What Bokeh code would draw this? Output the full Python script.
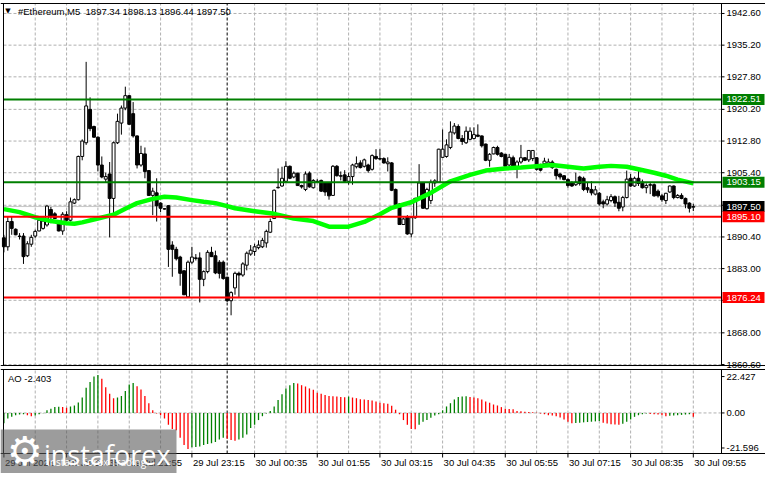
from bokeh.plotting import figure
from bokeh.models import Range1d, ColumnDataSource
from bokeh.embed import file_html
from bokeh.resources import INLINE
from bokeh.core.properties import value

# ---------------- data ----------------
symbol = "#Ethereum,M5"
opens = [1890.2, 1888.1, 1894.0, 1892.2, 1890.6, 1890.6, 1886.0, 1888.7, 1890.6, 1891.8,
         1892.4, 1893.2, 1896.8, 1895.8, 1894.0, 1891.8, 1895.6, 1894.3, 1898.3, 1899.1,
         1909.2, 1912.4, 1920.2, 1916.2, 1913.7, 1907.2, 1903.9, 1905.1, 1899.4, 1912.4,
         1917.0, 1920.5, 1923.4, 1919.2, 1914.0, 1907.2, 1909.8, 1905.9, 1900.1, 1900.7,
         1898.3, 1897.0, 1897.7, 1888.5, 1887.5, 1885.7, 1882.5, 1876.4, 1884.5, 1885.5,
         1885.5, 1880.5, 1882.3, 1886.8, 1886.0, 1884.5, 1884.5, 1881.0, 1875.5, 1878.5,
         1881.9, 1881.5, 1883.8, 1886.4, 1887.0, 1887.9, 1888.1, 1889.0, 1891.5, 1894.7,
         1901.9, 1902.3, 1903.4, 1906.9, 1904.4, 1905.3, 1902.4, 1901.5, 1905.3, 1901.9,
         1903.4, 1903.6, 1903.0, 1903.0, 1900.1, 1906.9, 1904.7, 1904.9, 1903.4, 1904.5,
         1906.8, 1907.7, 1906.9, 1907.2, 1906.2, 1909.2, 1908.7, 1908.7, 1907.5, 1907.7,
         1901.5, 1898.1, 1893.3, 1895.1, 1891.1, 1894.9, 1899.6, 1903.0, 1897.0, 1898.9,
         1903.0, 1903.2, 1909.0, 1909.2, 1911.3, 1914.7, 1916.2, 1913.4, 1912.4, 1913.2,
         1913.4, 1914.2, 1914.0, 1912.1, 1908.3, 1909.8, 1911.3, 1910.0, 1909.7, 1907.2,
         1908.9, 1906.9, 1907.9, 1908.9, 1908.4, 1908.7, 1908.9, 1907.2, 1907.5, 1907.4,
         1907.9, 1906.2, 1905.1, 1904.7, 1903.8, 1903.0, 1902.6, 1904.4, 1904.1, 1901.9,
         1901.5, 1900.4, 1900.6, 1898.6, 1898.1, 1898.9, 1899.8, 1898.5, 1897.4, 1899.6,
         1904.1, 1902.3, 1904.1, 1903.2, 1901.9, 1902.6, 1902.6, 1901.1, 1900.0, 1898.9,
         1900.9, 1902.3, 1899.6, 1900.1, 1899.4, 1898.3, 1897.34]
highs = [1890.9, 1895.1, 1895.1, 1892.4, 1891.3, 1891.3, 1889.4, 1890.9, 1892.1, 1894.7,
         1895.1, 1897.9, 1897.4, 1896.2, 1894.3, 1896.2, 1896.4, 1899.6, 1899.4, 1909.4,
         1913.2, 1931.3, 1923.0, 1916.4, 1913.9, 1909.2, 1905.4, 1907.9, 1912.7, 1919.2,
         1921.1, 1925.5, 1923.5, 1921.9, 1914.1, 1911.7, 1911.3, 1906.0, 1901.9, 1904.1,
         1898.5, 1897.1, 1897.8, 1889.4, 1888.1, 1886.0, 1882.6, 1884.9, 1888.1, 1886.4,
         1886.8, 1882.6, 1887.3, 1888.1, 1887.2, 1885.0, 1884.9, 1881.1, 1877.7, 1882.3,
         1882.3, 1884.5, 1887.0, 1888.5, 1888.8, 1889.6, 1890.2, 1892.1, 1894.7, 1901.5,
         1906.4, 1906.8, 1908.1, 1907.1, 1905.7, 1905.4, 1902.6, 1905.7, 1905.7, 1903.9,
         1903.9, 1903.8, 1903.2, 1903.2, 1907.2, 1907.2, 1905.7, 1906.0, 1905.4, 1907.5,
         1909.2, 1908.3, 1908.7, 1907.5, 1909.7, 1910.9, 1910.9, 1909.0, 1909.0, 1907.9,
         1901.7, 1898.3, 1894.9, 1895.5, 1895.1, 1899.6, 1907.4, 1903.2, 1901.9, 1903.8,
         1903.9, 1911.0, 1915.5, 1913.2, 1917.4, 1917.0, 1916.7, 1914.2, 1916.2, 1916.0,
         1916.0, 1916.7, 1914.1, 1912.2, 1910.0, 1911.5, 1911.7, 1910.2, 1909.8, 1909.8,
         1909.4, 1908.3, 1911.9, 1909.0, 1910.7, 1910.7, 1909.0, 1907.5, 1908.9, 1908.7,
         1908.3, 1906.4, 1905.3, 1904.8, 1904.1, 1903.4, 1905.4, 1904.7, 1904.5, 1903.0,
         1903.4, 1902.3, 1900.9, 1899.1, 1900.0, 1900.4, 1900.1, 1900.0, 1900.0, 1905.9,
         1905.1, 1904.5, 1905.9, 1903.8, 1902.9, 1903.0, 1902.9, 1901.5, 1900.4, 1900.7,
         1902.4, 1902.4, 1900.4, 1900.6, 1899.6, 1898.5, 1898.13]
lows = [1886.8, 1887.2, 1890.9, 1890.8, 1889.8, 1884.1, 1885.7, 1888.1, 1890.2, 1891.7,
        1892.1, 1892.8, 1893.6, 1894.6, 1891.7, 1890.9, 1894.0, 1894.0, 1898.1, 1898.9,
        1908.3, 1911.9, 1915.1, 1913.6, 1905.7, 1904.1, 1903.0, 1890.3, 1895.8, 1912.1,
        1914.3, 1920.0, 1916.6, 1913.6, 1906.4, 1906.8, 1904.1, 1900.0, 1895.5, 1894.0,
        1896.2, 1896.8, 1883.4, 1881.1, 1884.9, 1879.0, 1876.8, 1876.2, 1884.1, 1884.9,
        1875.1, 1878.9, 1881.9, 1885.7, 1881.7, 1880.7, 1880.4, 1875.2, 1872.1, 1876.9,
        1876.2, 1881.1, 1882.6, 1886.0, 1886.0, 1887.5, 1887.8, 1887.9, 1891.3, 1894.6,
        1901.7, 1902.1, 1903.0, 1903.9, 1904.1, 1902.3, 1901.7, 1901.1, 1901.9, 1901.7,
        1903.0, 1900.9, 1900.0, 1899.1, 1900.0, 1904.5, 1903.6, 1903.0, 1902.6, 1902.6,
        1906.4, 1906.4, 1906.6, 1905.4, 1905.9, 1908.4, 1908.3, 1907.5, 1905.7, 1901.1,
        1897.7, 1893.2, 1893.2, 1890.9, 1890.3, 1894.6, 1899.4, 1897.0, 1896.8, 1898.1,
        1902.1, 1903.0, 1908.9, 1908.9, 1910.9, 1914.3, 1913.2, 1911.9, 1912.1, 1913.0,
        1913.2, 1913.7, 1911.3, 1908.1, 1906.8, 1909.7, 1909.4, 1909.0, 1906.8, 1906.9,
        1906.4, 1904.1, 1907.5, 1908.1, 1907.9, 1908.1, 1905.9, 1905.7, 1907.2, 1907.2,
        1906.3, 1903.8, 1903.8, 1903.6, 1901.9, 1902.1, 1902.3, 1902.4, 1901.1, 1900.7,
        1900.1, 1900.1, 1897.7, 1897.1, 1897.7, 1898.5, 1897.4, 1896.4, 1896.4, 1899.4,
        1902.1, 1902.1, 1902.3, 1901.7, 1900.6, 1900.4, 1899.8, 1899.6, 1898.6, 1898.1,
        1900.7, 1899.2, 1899.4, 1899.2, 1897.1, 1896.1, 1896.44]
closes = [1888.1, 1894.0, 1892.4, 1890.9, 1890.5, 1885.8, 1888.8, 1890.3, 1891.7, 1894.3,
          1894.1, 1897.6, 1895.1, 1894.7, 1891.8, 1895.7, 1894.3, 1898.6, 1899.1, 1909.2,
          1912.8, 1921.0, 1915.7, 1913.7, 1907.2, 1904.4, 1904.5, 1899.4, 1912.4, 1917.4,
          1920.5, 1923.4, 1916.7, 1914.0, 1907.2, 1909.9, 1905.7, 1900.1, 1901.1, 1897.7,
          1897.1, 1896.9, 1887.5, 1887.5, 1885.3, 1881.9, 1876.9, 1884.5, 1885.7, 1885.4,
          1880.5, 1882.3, 1886.8, 1885.8, 1882.0, 1881.9, 1880.7, 1875.5, 1877.4, 1881.9,
          1881.5, 1884.1, 1886.6, 1887.3, 1888.1, 1888.5, 1889.6, 1891.7, 1894.0, 1901.3,
          1902.0, 1904.1, 1906.9, 1904.1, 1905.3, 1902.4, 1902.1, 1905.1, 1902.1, 1903.6,
          1903.3, 1901.1, 1900.9, 1900.0, 1906.9, 1904.7, 1904.6, 1903.4, 1904.5, 1907.2,
          1907.5, 1906.6, 1908.4, 1905.9, 1909.4, 1908.7, 1908.6, 1907.7, 1907.9, 1901.3,
          1897.9, 1893.3, 1894.6, 1891.1, 1894.9, 1899.4, 1903.0, 1897.1, 1901.5, 1903.2,
          1903.5, 1910.9, 1910.9, 1911.9, 1914.9, 1916.3, 1913.4, 1912.7, 1915.1, 1915.1,
          1914.3, 1913.9, 1911.7, 1908.3, 1909.7, 1911.3, 1909.7, 1909.2, 1906.9, 1909.0,
          1906.8, 1907.9, 1908.9, 1908.3, 1910.6, 1910.6, 1906.2, 1906.0, 1908.1, 1907.9,
          1906.6, 1904.7, 1904.4, 1903.8, 1902.4, 1902.3, 1903.2, 1902.9, 1901.5, 1901.4,
          1900.7, 1901.4, 1898.1, 1898.1, 1899.1, 1899.8, 1898.3, 1897.1, 1899.6, 1903.9,
          1902.3, 1904.1, 1902.9, 1901.9, 1902.4, 1902.5, 1900.0, 1900.0, 1899.1, 1900.6,
          1902.3, 1899.6, 1900.1, 1899.4, 1898.1, 1897.1, 1897.50]

# moving average read at sampled bars
ma_idx = [0, 4, 8, 12, 16, 18, 20, 24, 28, 31, 34, 38, 41, 44, 48, 51, 54, 57, 59,
          64, 69, 74, 79, 83, 88, 92, 96, 99, 104, 109, 114, 119, 123, 128, 132,
          136, 140, 144, 148, 152, 155, 159, 162, 166, 169, 172, 176]
ma_vals = [1896.9, 1896.2, 1895.0, 1894.1, 1893.6, 1893.5, 1893.8, 1894.7, 1895.6, 1897.0,
           1898.3, 1899.3, 1899.8, 1899.6, 1899.0, 1898.6, 1898.3, 1897.6, 1897.1,
           1896.4, 1895.8, 1894.7, 1894.1, 1892.8, 1892.8, 1893.9, 1895.7, 1897.2, 1898.5,
           1900.7, 1903.4, 1904.9, 1905.9, 1906.4, 1906.6, 1906.9, 1907.2, 1906.8, 1906.4,
           1906.8, 1907.0, 1906.8, 1906.2, 1905.4, 1904.7, 1903.8, 1902.9]

# Awesome Oscillator values per bar
ao = [-6.3, -3.4, -2.4, -1.4, -1.0, -0.8, -1.4, -2.0, -1.6, -0.8,
      -0.2, 1.6, 2.6, 3.6, 3.8, 3.6, 3.2, 4.0, 4.6, 6.5,
      9.5, 15.5, 19.0, 22.4, 23.4, 21.0, 15.9, 11.9, 9.1, 9.5,
      10.5, 13.5, 17.5, 18.5, 16.5, 14.5, 10.5, 6.0, 1.6, -0.4,
      -1.4, -3.4, -7.3, -9.9, -10.7, -15.3, -19.8, -22.2, -21.2, -21.0,
      -20.6, -19.8, -19.2, -18.7, -17.9, -16.3, -15.3, -15.9, -16.7, -17.1,
      -16.3, -15.3, -13.3, -9.3, -7.3, -4.4, -2.0, -0.4, 1.2, 4.0,
      7.9, 11.5, 15.1, 17.1, 18.5, 18.1, 17.1, 16.3, 15.1, 14.3,
      12.5, 11.9, 11.1, 10.5, 10.3, 10.1, 9.9, 9.7, 10.1, 9.5,
      9.1, 8.5, 8.3, 7.9, 7.7, 7.1, 6.3, 6.0, 5.6, 4.4,
      2.0, -0.8, -4.4, -7.3, -9.9, -10.1, -7.3, -5.4, -4.4, -3.0,
      -1.6, -0.8, 1.6, 4.0, 6.0, 8.3, 9.9, 10.1, 10.3, 9.9,
      9.5, 9.1, 8.3, 7.1, 6.3, 5.2, 4.6, 3.6, 2.6, 2.4,
      2.2, 1.2, 1.0, 0.8, 0.6, 0.4, 0.2, -0.4, -0.8, -1.4,
      -1.6, -2.0, -2.8, -4.0, -5.4, -6.3, -6.2, -6.0, -5.8, -5.6,
      -5.4, -5.2, -5.0, -6.0, -6.5, -6.9, -7.1, -7.3, -6.7, -5.4,
      -4.0, -2.4, -1.4, -0.8, -0.4, -0.6, -0.8, -1.0, -1.4, -2.0,
      -1.8, -1.6, -1.4, -1.2, -1.0, -0.8, -2.403]

resistance_levels = [1922.51, 1903.15]
support_levels = [1895.10, 1876.24]
bid_price = 1897.50

price_ticks = [1942.60, 1935.20, 1927.80, 1920.20, 1912.80, 1905.40,
               1897.80, 1890.40, 1883.00, 1875.60, 1868.00, 1860.60]
ao_ticks = [22.427, 0.0, -21.596]
ao_tick_labels = ["22.427", "0.00", "-21.596"]

time_ticks = [0, 16, 32, 48, 64, 80, 96, 112, 128, 144, 160, 176]
time_labels = ["29 Jul 2026", "29 Jul 20:35", "29 Jul 21:55", "29 Jul 23:15",
               "30 Jul 00:35", "30 Jul 01:55", "30 Jul 03:15", "30 Jul 04:35",
               "30 Jul 05:55", "30 Jul 07:15", "30 Jul 08:35", "30 Jul 09:55"]
grid_bars = [8, 16, 24, 32, 40, 48, 64, 72, 80, 88, 96, 104, 112, 120, 128,
             136, 144, 152, 160, 168, 176]
day_separator = 57

# ---------------- layout (canvas pixels) ----------------
W, H = 765, 473
FRAME_L, FRAME_R = 3, 721
MAIN_T, MAIN_B = 3, 365
AO_T, AO_B = 369, 453
X0, X1 = -0.1, 183.2            # bar window shown inside the frames
P_LO, P_HI = 1860.37, 1944.93   # price window of the main panel
A_LO, A_HI = -24.99, 26.77      # AO window

SX = (FRAME_R - FRAME_L) / (X1 - X0)
XS, XE = X0 - FRAME_L / SX, X1 + (W - FRAME_R) / SX
SP = (MAIN_B - MAIN_T) / (P_HI - P_LO)
PT, PB = P_HI + MAIN_T / SP, P_LO - (H - MAIN_B) / SP
SA = (AO_B - AO_T) / (A_HI - A_LO)
AT, AB = A_HI + AO_T / SA, A_LO - (H - AO_B) / SA


def xpx(px):      # canvas x pixel -> bar coordinate
    return XS + px / SX


def ypa(py):      # canvas y pixel -> AO coordinate
    return AT - py / SA


def ypp(py):      # canvas y pixel -> price coordinate
    return PT - py / SP


FONT = "Liberation Sans"
FS = value("9.5px")
GRID_COLOR = "#b0b0b0"
GREEN_LVL = "#007f00"
RED_LVL = "#ff0000"

N = len(closes)
idx = list(range(N))
bull = [c >= o for o, c in zip(opens, closes)]
src = ColumnDataSource(dict(
    x=idx, h=highs, l=lows,
    top=[max(o, c) for o, c in zip(opens, closes)],
    bottom=[min(o, c) for o, c in zip(opens, closes)],
    fill=["white" if b else "black" for b in bull],
))

p = figure(width=W, height=H, x_range=Range1d(XS, XE), y_range=Range1d(PB, PT),
           extra_y_ranges={"ao": Range1d(AB, AT)},
           x_axis_location=None, y_axis_location=None,
           output_backend="svg", toolbar_location=None, min_border=0)
p.outline_line_color = None
p.background_fill_color = "white"
p.border_fill_color = "white"
p.grid.grid_line_color = None

# ---- grids (dashed) ----
p.segment(x0=grid_bars, y0=[P_LO] * len(grid_bars), x1=grid_bars, y1=[P_HI] * len(grid_bars),
          line_color=GRID_COLOR, line_dash="3 2", line_width=1)
p.segment(x0=[X0] * len(price_ticks), y0=price_ticks, x1=[X1] * len(price_ticks), y1=price_ticks,
          line_color=GRID_COLOR, line_dash="3 2", line_width=1)
p.segment(x0=grid_bars, y0=[A_LO] * len(grid_bars), x1=grid_bars, y1=[A_HI] * len(grid_bars),
          line_color=GRID_COLOR, line_dash="3 2", line_width=1, y_range_name="ao")
p.segment(x0=[X0], y0=[0.0], x1=[X1], y1=[0.0],
          line_color=GRID_COLOR, line_dash="3 2", line_width=1, y_range_name="ao")

# bid line and day separator
p.segment(x0=[X0], y0=[bid_price], x1=[X1], y1=[bid_price], line_color="#c8c8c8", line_width=1)
p.segment(x0=[day_separator], y0=[P_LO], x1=[day_separator], y1=[P_HI],
          line_color="black", line_dash="3 2", line_width=1)
p.segment(x0=[day_separator], y0=[A_LO], x1=[day_separator], y1=[A_HI],
          line_color="black", line_dash="3 2", line_width=1, y_range_name="ao")

# ---- candles ----
p.segment(x0="x", y0="h", x1="x", y1="l", source=src, line_color="black", line_width=1)
p.vbar(x="x", width=0.75, top="top", bottom="bottom", source=src,
       fill_color="fill", line_color="black", line_width=1)

# ---- moving average ----
p.line(ma_idx, ma_vals, line_color="#00ff00", line_width=4.5, line_join="round")

# ---- levels ----
p.segment(x0=[X0] * 2, y0=resistance_levels, x1=[X1] * 2, y1=resistance_levels,
          line_color=GREEN_LVL, line_width=2)
p.segment(x0=[X0] * 2, y0=support_levels, x1=[X1] * 2, y1=support_levels,
          line_color=RED_LVL, line_width=2)

# ---- AO histogram ----
ao_colors = ["#008000"] + ["#008000" if ao[i] > ao[i - 1] else "#ff0000" for i in range(1, N)]
p.segment(x0=idx, y0=[0.0] * N, x1=idx, y1=ao, line_color=ao_colors, line_width=1.3,
          y_range_name="ao")

# ---- frame borders ----
p.segment(x0=[XS, XS], y0=[P_HI, P_LO], x1=[XE, XE], y1=[P_HI, P_LO], line_color="black", line_width=1)
p.segment(x0=[XS, XS], y0=[A_HI, A_LO], x1=[XE, XE], y1=[A_HI, A_LO], line_color="black",
          line_width=1, y_range_name="ao")
p.segment(x0=[X0, X1], y0=[P_LO, P_LO], x1=[X0, X1], y1=[P_HI, P_HI], line_color="black", line_width=1)
p.segment(x0=[X0, X1], y0=[A_LO, A_LO], x1=[X0, X1], y1=[A_HI, A_HI], line_color="black",
          line_width=1, y_range_name="ao")

# ---- price scale (right) ----
TICK = 3 / SX
p.segment(x0=[X1] * len(price_ticks), y0=price_ticks, x1=[X1 + TICK] * len(price_ticks),
          y1=price_ticks, line_color="black", line_width=1)
p.text(x=[X1 + 5 / SX] * len(price_ticks), y=price_ticks,
       text=[f"{t:.2f}" for t in price_ticks], text_font=value(FONT), text_font_size=FS,
       text_color="black", text_align="left", text_baseline="middle")

tag_values = [resistance_levels[0], resistance_levels[1], bid_price,
              support_levels[0], support_levels[1]]
tag_colors = [GREEN_LVL, GREEN_LVL, "black", RED_LVL, RED_LVL]
half = 5.5 / SP
p.quad(left=[X1 + 1 / SX] * 5, right=[X1 + 43 / SX] * 5,
       bottom=[v - half for v in tag_values], top=[v + half for v in tag_values],
       fill_color=tag_colors, line_color=None)
p.text(x=[X1 + 5 / SX] * 5, y=tag_values, text=[f"{v:.2f}" for v in tag_values],
       text_font=value(FONT), text_font_size=FS, text_color="white",
       text_align="left", text_baseline="middle")

# ---- AO scale (right) ----
p.segment(x0=[X1] * 3, y0=ao_ticks, x1=[X1 + TICK] * 3, y1=ao_ticks,
          line_color="black", line_width=1, y_range_name="ao")
p.text(x=[X1 + 5 / SX] * 3, y=ao_ticks, text=ao_tick_labels, text_font=value(FONT),
       text_font_size=FS, text_color="black", text_align="left", text_baseline="middle",
       y_range_name="ao")

# ---- time scale (bottom) ----
p.segment(x0=time_ticks, y0=[A_LO] * len(time_ticks), x1=time_ticks,
          y1=[A_LO - 4 / SA] * len(time_ticks), line_color="black", line_width=1,
          y_range_name="ao")
p.text(x=[t + 1 / SX for t in time_ticks], y=[A_LO - 9 / SA] * len(time_ticks),
       text=time_labels, text_font=value(FONT), text_font_size=FS, text_color="black",
       text_align="left", text_baseline="middle", y_range_name="ao")

# ---- titles ----
title_text = f"{symbol}\u00a0 {opens[-1]:.2f} {highs[-1]:.2f} {lows[-1]:.2f} {closes[-1]:.2f}"
p.text(x=[xpx(7.5)], y=[ypp(10.5)], text=["\u25bc"], text_font=value("DejaVu Sans"),
       text_font_size=value("7px"), text_color="black", text_align="center",
       text_baseline="middle")
p.text(x=[xpx(17.5)], y=[ypp(10.5)], text=[title_text], text_font=value(FONT),
       text_font_size=FS, text_color="black", text_align="left", text_baseline="middle")
p.text(x=[xpx(7.5)], y=[ypa(378)], text=[f"AO {ao[-1]:.3f}"], text_font=value(FONT),
       text_font_size=FS, text_color="black", text_align="left", text_baseline="middle",
       y_range_name="ao")

# ---- watermark ----
p.quad(left=[xpx(0)], right=[xpx(176)], bottom=[ypa(473)], top=[ypa(429)],
       fill_color="#5a5a5a", fill_alpha=0.6, line_color=None, y_range_name="ao")
p.text(x=[xpx(24.5)], y=[ypa(450)], text=["\u2699"], text_font=value("DejaVu Sans"),
       text_font_size=value("40px"), text_color="white", text_align="center",
       text_baseline="middle", y_range_name="ao")
p.text(x=[xpx(43.5)], y=[ypa(453.5)], text=["instaforex"], text_font=value("Open Sans"),
       text_font_size=value("27px"), text_color="white", text_align="left",
       text_baseline="alphabetic", y_range_name="ao")
p.text(x=[xpx(46.5)], y=[ypa(461)], text=["Instant Forex Trading"], text_font=value("Open Sans"),
       text_font_size=value("10px"), text_color="white", text_align="left",
       text_baseline="middle", y_range_name="ao")

open("out.html", "w").write(file_html(p, INLINE))
